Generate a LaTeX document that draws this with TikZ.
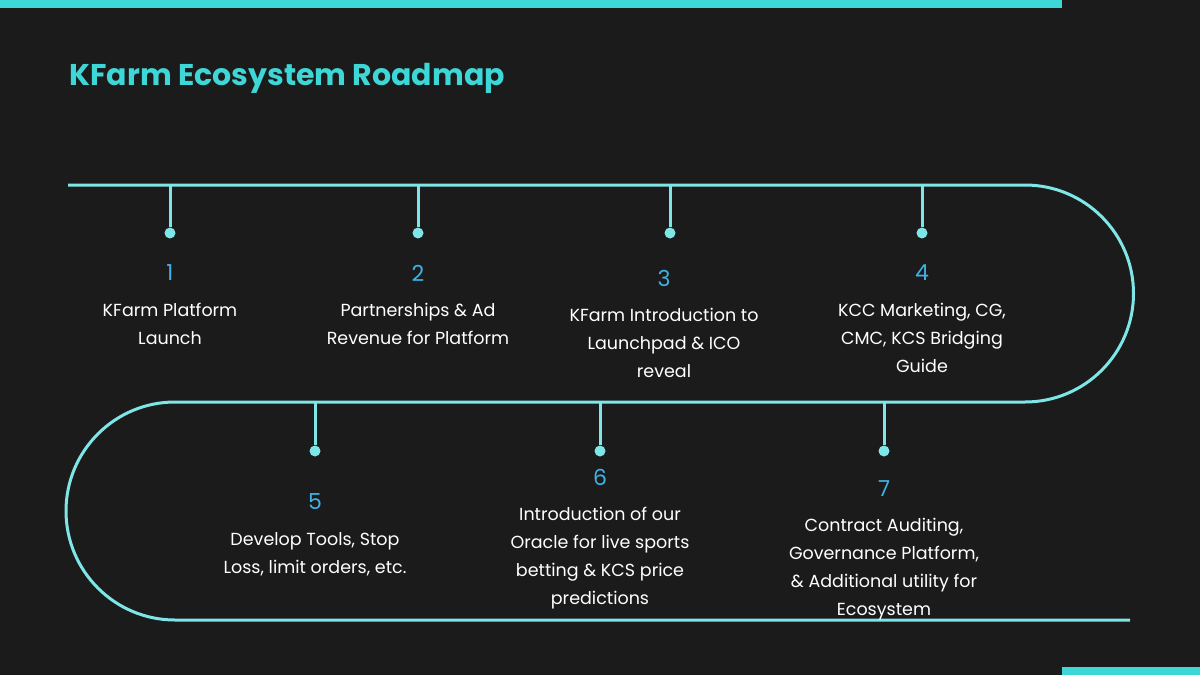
\documentclass[tikz,border=0pt]{standalone}
\usepackage{fontspec}
\setmainfont{Poppins}
\definecolor{bg}{HTML}{1B1B1B}
\definecolor{cy}{HTML}{3ED7D7}
\definecolor{ln}{HTML}{7FE6E8}
\definecolor{num}{HTML}{3FB3E8}
\begin{document}
\begin{tikzpicture}[x=1pt,y=-1pt,
 stem/.style={ln,line width=3pt},
 dot/.style={circle,fill=ln,inner sep=0pt,minimum size=11pt},
 nm/.style={text=num,font=\fontsize{22}{26}\selectfont},
 tx/.style={text=white,font=\fontsize{17.5}{28}\selectfont,align=center}]
\fill[bg] (0,0) rectangle (1200,675);
\useasboundingbox (0,0) rectangle (1200,675);
\fill[cy] (0,0) rectangle (1062,8);
\fill[cy] (1062,667) rectangle (1200,675);
\node[anchor=west,text=cy,font=\fontsize{30}{34}\selectfont\bfseries] (title) at (66,78) {KFarm Ecosystem Roadmap};
\draw[ln,line width=3pt] (68,185) -- (1025,185) arc[start angle=-90,end angle=90,radius=108.5] -- (175,402) arc[start angle=270,end angle=90,radius=109] -- (1130,620);
\foreach \i/\x/\y/\d in {a/170/185/233,b/418/185/233,c/670/185/233,d/922/185/233,e/315/402/451,f/600/402/451,g/884/402/451}{
 \coordinate (s\i) at (\x,\y);
 \node[dot] (d\i) at (\x,\d) {};
 \draw[stem] (s\i) -- (d\i);}
\node[nm] (n1) at (170,273) {1};
\node[nm] (n2) at (418,273) {2};
\node[nm] (n3) at (664,278) {3};
\node[nm] (n4) at (922,273) {4};
\node[nm] (n5) at (315,502) {5};
\node[nm] (n6) at (600,477) {6};
\node[nm] (n7) at (884,489) {7};
\node[tx,anchor=north] (t1) at (170,300) {KFarm Platform\\Launch};
\node[tx,anchor=north] (t2) at (418,300) {Partnerships \& Ad\\Revenue for Platform};
\node[tx,anchor=north] (t3) at (664,305) {KFarm Introduction to\\Launchpad \& ICO\\reveal};
\node[tx,anchor=north] (t4) at (922,300) {KCC Marketing, CG,\\CMC, KCS Bridging\\Guide};
\node[tx,anchor=north] (t5) at (315,529) {Develop Tools, Stop\\Loss, limit orders, etc.};
\node[tx,anchor=north] (t6) at (600,504) {Introduction of our\\Oracle for live sports\\betting \& KCS price\\predictions};
\node[tx,anchor=north] (t7) at (884,515) {Contract Auditing,\\Governance Platform,\\\& Additional utility for\\Ecosystem};
\end{tikzpicture}
\end{document}
